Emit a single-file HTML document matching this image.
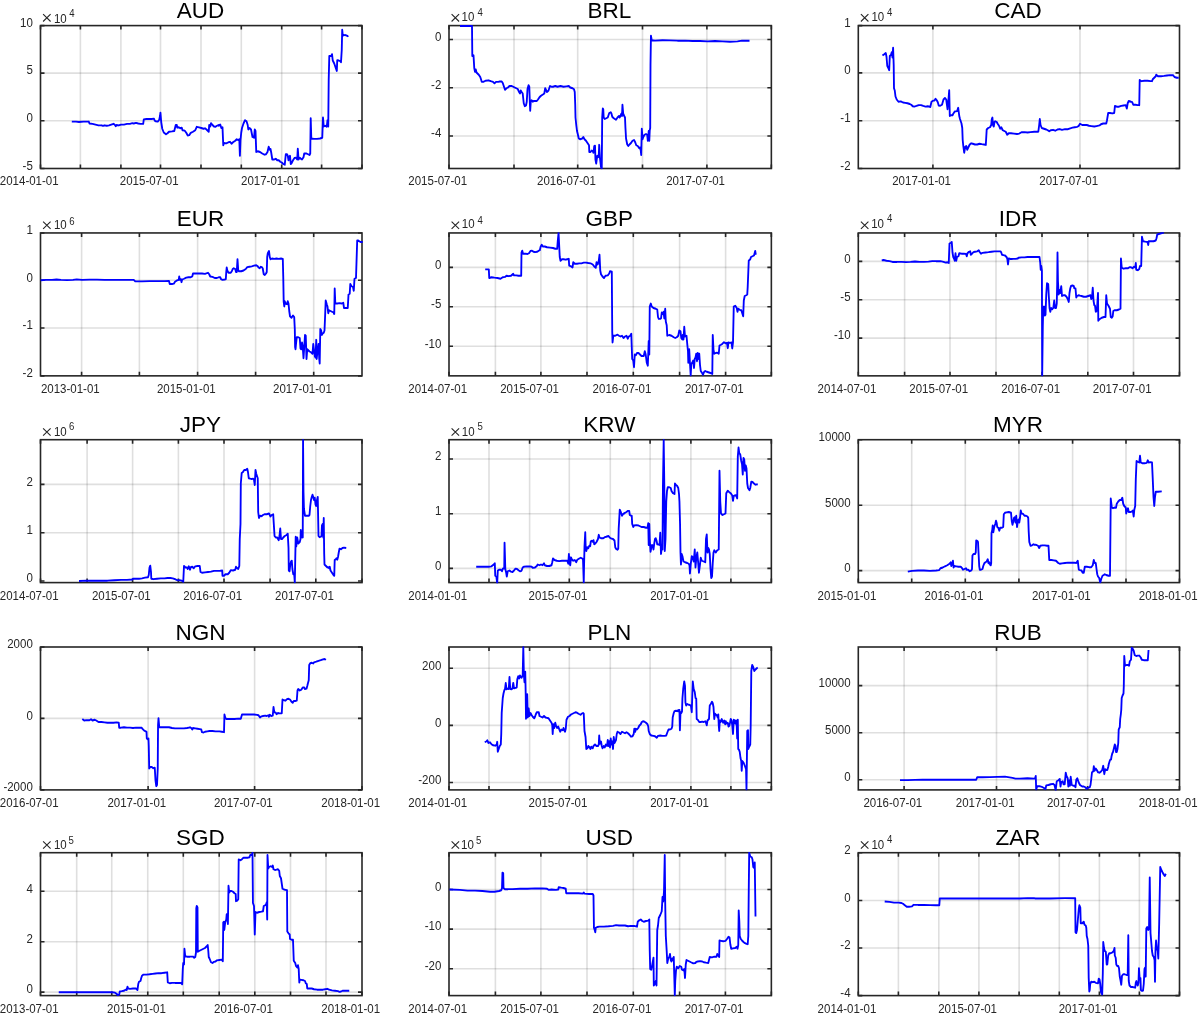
<!DOCTYPE html>
<html><head><meta charset="utf-8"><style>html,body{margin:0;padding:0;background:#fff;}svg{display:block;will-change:transform;}text{font-family:"Liberation Sans",sans-serif;}</style></head><body>
<svg width="1200" height="1016" viewBox="0 0 1200 1016">
<rect x="0" y="0" width="1200" height="1016" fill="#fff"/>
<defs>
<clipPath id="c0"><rect x="39.8" y="24.9" width="322.9" height="144.3"/></clipPath>
<clipPath id="c1"><rect x="448.3" y="24.9" width="323.75" height="144.3"/></clipPath>
<clipPath id="c2"><rect x="857.6" y="24.9" width="322.6" height="144.3"/></clipPath>
<clipPath id="c3"><rect x="39.8" y="232.25" width="322.9" height="144.3"/></clipPath>
<clipPath id="c4"><rect x="448.3" y="232.25" width="323.75" height="144.3"/></clipPath>
<clipPath id="c5"><rect x="857.6" y="232.25" width="322.6" height="144.3"/></clipPath>
<clipPath id="c6"><rect x="39.8" y="439" width="322.9" height="144.3"/></clipPath>
<clipPath id="c7"><rect x="448.3" y="439" width="323.75" height="144.3"/></clipPath>
<clipPath id="c8"><rect x="857.6" y="439" width="322.6" height="144.3"/></clipPath>
<clipPath id="c9"><rect x="39.8" y="646.3" width="322.9" height="144.3"/></clipPath>
<clipPath id="c10"><rect x="448.3" y="646.3" width="323.75" height="144.3"/></clipPath>
<clipPath id="c11"><rect x="857.6" y="646.3" width="322.6" height="144.3"/></clipPath>
<clipPath id="c12"><rect x="39.8" y="852" width="322.9" height="144.3"/></clipPath>
<clipPath id="c13"><rect x="448.3" y="852" width="323.75" height="144.3"/></clipPath>
<clipPath id="c14"><rect x="857.6" y="852" width="322.6" height="144.3"/></clipPath>
</defs>
<g><path d="M80.4 25.6V168.5M120.9 25.6V168.5M160.5 25.6V168.5M201 25.6V168.5M241.3 25.6V168.5M281.7 25.6V168.5M321.6 25.6V168.5" stroke="#262626" stroke-opacity="0.15" stroke-width="1.6" fill="none"/><path d="M40.5 73.15H362M40.5 120.8H362" stroke="#262626" stroke-opacity="0.15" stroke-width="1.6" fill="none"/><path d="M40.5 168.5V164.5M40.5 25.6V29.6M80.4 168.5V164.5M80.4 25.6V29.6M120.9 168.5V164.5M120.9 25.6V29.6M160.5 168.5V164.5M160.5 25.6V29.6M201 168.5V164.5M201 25.6V29.6M241.3 168.5V164.5M241.3 25.6V29.6M281.7 168.5V164.5M281.7 25.6V29.6M321.6 168.5V164.5M321.6 25.6V29.6M362 168.5V164.5M362 25.6V29.6M40.5 25.6H44.5M362 25.6H358M40.5 73.15H44.5M362 73.15H358M40.5 120.8H44.5M362 120.8H358M40.5 168.5H44.5M362 168.5H358" stroke="#262626" stroke-width="1.6" fill="none"/><rect x="40.5" y="25.6" width="321.5" height="142.9" stroke="#262626" stroke-width="1.6" fill="none"/><path d="M71.8,121.55 76,121.7 79,122 83.5,121.7 88.75,121.55 89.5,123.5 92.5,123.95 95.5,124.7 98.5,125.45 101.5,125.3 103,125.9 104.5,125.3 106.75,125.75 109,125.3 111.25,124.55 113.5,123.8 115,125 115.75,126.2 116.5,125 118.75,125.45 121,124.55 124,124.55 127,123.95 130,123.8 132.25,123.2 133.75,123.5 136,122.9 138.25,123.5 140.5,123.8 143.2,123.95 143.8,119.45 146.5,119 149.5,119 151.75,119 154,118.7 154.75,120.8 155.5,121.25 157.75,121.55 159.25,119.75 160,116 160.45,112.7 161.2,122 162.25,128.75 163.75,132.5 166,134.3 167.5,133.25 169,131.75 172,131.45 174.25,131 175,128 175.75,125 176.8,125 177.25,127.7 178.75,127.25 180.25,128.3 181.75,127.7 182.5,130.25 184.75,130.7 186.25,132.8 187.75,135.5 189.25,135.2 190.75,132.8 193,131.75 195.25,130.25 196.75,126.8 199,127.4 201.25,128 203.5,128.75 205,128.3 206.5,129.5 208.75,131.75 209.2,125 210.25,126.5 211,123.2 212.5,125 214,126.5 215.5,126.8 217,125.75 218.5,125 218.75,125.75 220.25,124.55 221.3,128 222.5,127.25 223.25,145.25 224,143 226.25,143.3 228.5,142.25 230,141.8 231.5,143.75 233,142.25 235.25,140.75 236.75,139.25 238.25,140 239.3,139.25 239.9,155.75 240.5,140 241.25,132.5 242,128 243.5,123.5 245,120.2 246.5,121.25 247.7,125 248.3,129.5 249.5,128 251,129.5 252.5,137 254,137.75 254.75,129.5 255.5,131 256.25,152 257.75,151.25 260,152 262.25,153.5 264.5,154.7 266,154.25 267.5,152 268.7,146.75 269.75,149.75 270.5,149 271.25,152.75 272.3,159.5 274.25,159.5 275.75,158.75 277.25,160.25 278.75,160.25 280.25,161.75 281.75,162.5 283.25,164 284.75,164.75 285.8,154.25 287,154.25 287.75,155.75 288.5,160.25 289.25,157.25 290,155.75 290.75,164 291.5,163.25 293,160.25 294.5,158 296,157.7 297.2,159.5 297.8,148.7 298.55,159.5 299.75,157.7 300.8,158.75 302,159.5 303.5,157.25 304.25,153.5 306.5,153.5 308,154.25 309.5,155 310.25,153.5 310.7,118.25 311.3,138.5 314,138.8 317,138.8 320,138.5 322.25,137.75 323,117.5 323.75,126.5 325.25,125.75 326.75,126.8 327.5,120.2 328.25,126.5 328.7,80 329.3,56 331.25,56 332,54.2 332.75,60.5 334.25,63.5 335.75,68 336.8,71 337.25,60.2 338.75,60.5 340.25,61.25 341,62.3 341.75,50 342.2,29.75 342.8,35.75 344.75,35 346.25,35.45 347.75,36.2 348.5,36.05" stroke="#0000ff" stroke-width="1.85" fill="none" stroke-linejoin="round" clip-path="url(#c0)"/><text transform="translate(29.2 185) scale(0.958 1)" font-size="12.0" fill="#262626" text-anchor="middle">2014-01-01</text><text transform="translate(149.2 185) scale(0.958 1)" font-size="12.0" fill="#262626" text-anchor="middle">2015-07-01</text><text transform="translate(270.4 185) scale(0.958 1)" font-size="12.0" fill="#262626" text-anchor="middle">2017-01-01</text><text transform="translate(32.8 26.9) scale(0.958 1)" font-size="12.0" fill="#262626" text-anchor="end">10</text><text transform="translate(32.8 74.45) scale(0.958 1)" font-size="12.0" fill="#262626" text-anchor="end">5</text><text transform="translate(32.8 122.1) scale(0.958 1)" font-size="12.0" fill="#262626" text-anchor="end">0</text><text transform="translate(32.8 169.8) scale(0.958 1)" font-size="12.0" fill="#262626" text-anchor="end">-5</text><text x="200.45" y="18.25" font-size="22.5" fill="#000" text-anchor="middle">AUD</text><path d="M43.1 14.2L50.6 21.5M50.6 14.2L43.1 21.5" stroke="#262626" stroke-width="1.1" fill="none"/><text transform="translate(53.9 22.5) scale(0.958 1)" font-size="12.0" fill="#262626" text-anchor="start">10</text><text transform="translate(69.3 16.9) scale(0.958 1)" font-size="10.0" fill="#262626" text-anchor="start">4</text></g>
<g><path d="M514 25.6V168.5M577.7 25.6V168.5M642.5 25.6V168.5M706.9 25.6V168.5" stroke="#262626" stroke-opacity="0.15" stroke-width="1.6" fill="none"/><path d="M449 39.45H771.35M449 87.7H771.35M449 135.95H771.35" stroke="#262626" stroke-opacity="0.15" stroke-width="1.6" fill="none"/><path d="M449 168.5V164.5M449 25.6V29.6M514 168.5V164.5M514 25.6V29.6M577.7 168.5V164.5M577.7 25.6V29.6M642.5 168.5V164.5M642.5 25.6V29.6M706.9 168.5V164.5M706.9 25.6V29.6M771.35 168.5V164.5M771.35 25.6V29.6M449 39.45H453M771.35 39.45H767.35M449 87.7H453M771.35 87.7H767.35M449 135.95H453M771.35 135.95H767.35" stroke="#262626" stroke-width="1.6" fill="none"/><rect x="449" y="25.6" width="322.35" height="142.9" stroke="#262626" stroke-width="1.6" fill="none"/><path d="M460,26 466,26 472,26 472.3,56 473.5,55.25 474.25,68 475,71.75 475.75,69.5 476.5,72.5 477.25,73.25 478.75,74.75 480.25,77 481,79.25 481.75,81.8 483.25,81.8 485.5,80.75 488.5,80.3 490.75,81.2 493,81.8 494.5,83.3 496,81.8 498.25,81.8 499.75,81.5 501.7,81.5 502.75,83 504.25,87.5 505,89.75 506.5,88.25 508,87.5 509.5,86 511.75,86 513.25,86.75 514.75,87.5 516.25,88.25 517.75,89 519.25,92.3 520,93.5 520.75,90.5 521.5,91.7 522.7,93.5 523.75,103.25 524.8,106.25 526,105.5 526.75,101.75 527.5,89 528.55,85.25 529.3,86.75 529.9,104 530.2,110.75 530.8,101 531.7,100.25 532.75,101.75 533.5,101 535,101 536.8,101 538,99.5 539.5,97.25 541,95.75 543.25,94.25 544.3,93.5 545.2,88.25 546.25,90.5 547,92 548.5,90.5 550,86 551.5,86.75 553,86.75 555.25,86 557.5,86.75 560.5,86 563.5,86.75 566.5,86.3 568.75,86 570.25,87.5 572.5,88.25 574,89.3 574.75,92 575.2,104 575.5,117.5 576.25,125 577,131 577.75,134 578.8,138.5 580,139.25 582.25,138.5 583.3,137 584.5,139.25 586,140.75 587.5,143 589,145.25 589.3,152 590.5,152 591.7,150.5 592.75,151.25 593.5,152.75 594.25,146 595,145.7 595.45,159.5 596.2,163.7 597.25,155.75 598,157.25 598.75,155.75 599.2,144.8 599.95,158 601,167 601.75,168.5 602.2,117.5 602.8,108.5 603.25,109.25 603.7,117.5 604.75,119 606.25,118.25 607.75,117.5 609.25,113 610.75,112.25 611.5,113.75 612.25,116.75 613.75,118.25 616,119.75 617.5,117.5 619,116 619.75,117.5 621.25,113.75 622,116 622.45,104.75 623.2,113.75 624.25,116 625,117.5 625.45,128 626.05,138.5 627.25,144.5 628.3,146 629.5,144.5 631,143 632.5,140.75 634,140 635.2,142.25 636.25,145.25 637.75,146 639.25,148.25 640,147.5 640.75,150.5 641.2,155 641.8,128.75 642.55,139.25 643.3,137 644.5,134.75 646,134 647.2,134.75 647.8,140.75 648.25,137.75 648.7,131 649.3,140.75 649.75,130.25 650.2,128 650.5,65 650.95,35.75 651.7,40.25 655,40.55 662.5,40.25 670,40.4 677.5,40.7 685,40.7 692.5,41 700,41 707.5,41.3 715,41 722.5,41.3 730,41.75 737.5,41.45 742,40.7 749.5,40.7" stroke="#0000ff" stroke-width="1.85" fill="none" stroke-linejoin="round" clip-path="url(#c1)"/><text transform="translate(437.7 185) scale(0.958 1)" font-size="12.0" fill="#262626" text-anchor="middle">2015-07-01</text><text transform="translate(566.4 185) scale(0.958 1)" font-size="12.0" fill="#262626" text-anchor="middle">2016-07-01</text><text transform="translate(695.6 185) scale(0.958 1)" font-size="12.0" fill="#262626" text-anchor="middle">2017-07-01</text><text transform="translate(441.3 40.75) scale(0.958 1)" font-size="12.0" fill="#262626" text-anchor="end">0</text><text transform="translate(441.3 89) scale(0.958 1)" font-size="12.0" fill="#262626" text-anchor="end">-2</text><text transform="translate(441.3 137.25) scale(0.958 1)" font-size="12.0" fill="#262626" text-anchor="end">-4</text><text x="609.38" y="18.25" font-size="22.5" fill="#000" text-anchor="middle">BRL</text><path d="M451.6 14.2L459.1 21.5M459.1 14.2L451.6 21.5" stroke="#262626" stroke-width="1.1" fill="none"/><text transform="translate(461.6 20.6) scale(0.958 1)" font-size="12.0" fill="#262626" text-anchor="start">10</text><text transform="translate(477.4 15.6) scale(0.958 1)" font-size="10.0" fill="#262626" text-anchor="start">4</text></g>
<g><path d="M932.9 25.6V168.5M1080 25.6V168.5" stroke="#262626" stroke-opacity="0.15" stroke-width="1.6" fill="none"/><path d="M858.3 72.9H1179.5M858.3 120.75H1179.5" stroke="#262626" stroke-opacity="0.15" stroke-width="1.6" fill="none"/><path d="M932.9 168.5V164.5M932.9 25.6V29.6M1080 168.5V164.5M1080 25.6V29.6M858.3 25.6H862.3M1179.5 25.6H1175.5M858.3 72.9H862.3M1179.5 72.9H1175.5M858.3 120.75H862.3M1179.5 120.75H1175.5M858.3 168.5H862.3M1179.5 168.5H1175.5" stroke="#262626" stroke-width="1.6" fill="none"/><rect x="858.3" y="25.6" width="321.2" height="142.9" stroke="#262626" stroke-width="1.6" fill="none"/><path d="M882.45,55.55 884.25,54.2 885.75,53 886.5,56.75 887.25,65.75 888.3,68 889.2,70.25 889.8,56 891,54.8 891.75,52.25 892.5,57.5 893.1,47.75 893.7,65 894,88.25 894.75,90.5 895.5,96.5 896.7,99.5 898.5,101.75 900.75,101.45 903,102.5 905.25,102.8 907.5,103.25 909.75,104 911.25,104.75 912.75,106.25 914.25,106.55 916.5,105.95 918.75,105.05 921,105.05 923.25,105.95 925.5,106.55 927.75,106.25 929.25,106.7 930.3,107 931.5,101.75 933,100.7 934.5,100.55 935.55,98.75 936.75,100.25 937.8,102.2 938.7,105.5 940.2,105.8 942,104.75 943.5,99.5 945,98 946.2,99.5 946.8,104 947.55,109.25 948,102.5 948.6,98 949.2,90.2 949.8,116 951,115.25 952.5,115.25 953.25,113.75 954.75,111.5 957,111.2 958.2,107.75 959.25,116 960,119 961.5,123.5 962.25,128 962.7,140 963.3,146 964.2,152.75 965.25,146.75 966.3,146 967.2,149.75 968.25,147.5 969.75,144.5 971.25,143.3 972.75,143.75 975,144.5 977.25,144.5 979.5,143.75 981.75,144.2 984,144.5 985.8,144.95 986.7,129.5 988.2,128 990,127.25 991.2,125 991.8,119 992.4,117.5 993,125 993.75,126.5 994.5,122 995.25,121.25 996.75,122 997.5,123.5 999,125.75 1000.2,128.75 1001.25,127.25 1002.75,130.25 1004.25,131 1005.75,131.75 1007.25,134.75 1008.75,133.25 1011,133.25 1014,133.55 1017,134 1019.25,133.55 1021.5,132.2 1024.5,132.2 1027.5,132.5 1030.5,132.05 1034.25,131.75 1035,131.75 1038.3,131.75 1039.2,125 1039.8,119 1040.55,125 1041.75,128 1044,128.75 1046.25,129.5 1047.75,130.25 1049.25,131.3 1050.75,130.25 1053,129.8 1055.25,130.7 1057.5,129.5 1059.75,129.05 1062,129.8 1065,129.2 1068,129.2 1070.25,128.3 1072.5,127.7 1074.75,127.25 1077,126.8 1078.5,126.2 1080,123.8 1082.25,125 1084.5,125 1086.75,125 1089,125.75 1091.25,126.05 1094.25,126.5 1096.5,126.05 1099.5,125.45 1101,124.25 1103.25,123.5 1106.25,123.5 1107,120.2 1108.2,113 1110,113 1112.25,113.45 1114.2,113 1114.95,105.95 1116.75,106.7 1119,106.7 1121.25,105.8 1123.5,105.5 1125.75,105.2 1126.8,108.5 1127.7,103.25 1128.75,101 1131,101.75 1132.2,102.2 1133.25,104.75 1135.5,104.75 1137.75,105.05 1139.25,105.2 1139.7,80 1141.5,81.2 1144.5,80.75 1147.5,80.75 1150.5,81.05 1152,81.2 1152.75,79.25 1154.25,77.75 1155.75,76.25 1156.2,74.75 1158,76.25 1161,76.25 1164,75.95 1167,75.5 1170,75.2 1173,75.2 1174.5,77 1176.75,77.75 1178.7,77.75" stroke="#0000ff" stroke-width="1.85" fill="none" stroke-linejoin="round" clip-path="url(#c2)"/><text transform="translate(921.6 185) scale(0.958 1)" font-size="12.0" fill="#262626" text-anchor="middle">2017-01-01</text><text transform="translate(1068.7 185) scale(0.958 1)" font-size="12.0" fill="#262626" text-anchor="middle">2017-07-01</text><text transform="translate(850.6 26.9) scale(0.958 1)" font-size="12.0" fill="#262626" text-anchor="end">1</text><text transform="translate(850.6 74.2) scale(0.958 1)" font-size="12.0" fill="#262626" text-anchor="end">0</text><text transform="translate(850.6 122.05) scale(0.958 1)" font-size="12.0" fill="#262626" text-anchor="end">-1</text><text transform="translate(850.6 169.8) scale(0.958 1)" font-size="12.0" fill="#262626" text-anchor="end">-2</text><text x="1018.1" y="18.25" font-size="22.5" fill="#000" text-anchor="middle">CAD</text><path d="M860.9 14.2L868.4 21.5M868.4 14.2L860.9 21.5" stroke="#262626" stroke-width="1.1" fill="none"/><text transform="translate(871.4 20.8) scale(0.958 1)" font-size="12.0" fill="#262626" text-anchor="start">10</text><text transform="translate(887 15.6) scale(0.958 1)" font-size="10.0" fill="#262626" text-anchor="start">4</text></g>
<g><path d="M81.6 232.95V375.85M139.4 232.95V375.85M197.6 232.95V375.85M255.6 232.95V375.85M313.7 232.95V375.85" stroke="#262626" stroke-opacity="0.15" stroke-width="1.6" fill="none"/><path d="M40.5 280.3H362M40.5 328H362" stroke="#262626" stroke-opacity="0.15" stroke-width="1.6" fill="none"/><path d="M81.6 375.85V371.85M81.6 232.95V236.95M139.4 375.85V371.85M139.4 232.95V236.95M197.6 375.85V371.85M197.6 232.95V236.95M255.6 375.85V371.85M255.6 232.95V236.95M313.7 375.85V371.85M313.7 232.95V236.95M40.5 232.95H44.5M362 232.95H358M40.5 280.3H44.5M362 280.3H358M40.5 328H44.5M362 328H358M40.5 375.85H44.5M362 375.85H358" stroke="#262626" stroke-width="1.6" fill="none"/><rect x="40.5" y="232.95" width="321.5" height="142.9" stroke="#262626" stroke-width="1.6" fill="none"/><path d="M40.75,280.25 46,279.95 52,279.8 56.5,279.5 61,279.95 67,280.1 73,279.95 76.75,279.35 82,279.8 89.5,279.65 97,279.65 104.5,279.8 112,279.8 119.5,279.95 127,279.8 133.75,279.8 135.25,281.3 142,281.3 149.5,281.15 157,281.15 164.5,281.15 169,281 169.75,284 172,284 173.8,283.7 175,281.75 177.25,280.25 178.75,279.8 179.2,276.5 179.8,279.8 181,279.2 181.45,282.2 182.2,279.5 184,278.75 186.25,277.7 188.5,277.25 190.75,277.25 192.25,276.5 193,273.5 196,273.5 199,273.5 202,273.5 205,273.8 208,272.75 209.2,274.25 210.25,276.5 212.5,276.95 214.75,278 216.95,278 218.75,277.25 220.25,277.25 221,279.2 222.5,279.8 224.75,279.5 225.8,279.2 226.25,272 226.7,267.5 227.3,270.5 228.5,272.75 230.75,272.75 231.8,271.25 232.7,269 233.75,268.25 235.25,269 236,272 236.75,272 237.5,259.25 238.25,270.5 239,271.25 241.25,271.25 243.5,270.5 245.75,269 247.25,267.2 249.5,266.75 251.75,266.3 254,265.7 256.25,265.25 257.75,266.3 258.5,267.5 259.7,268.25 260.75,266.75 261.8,267.2 262.7,268.25 263.75,274.25 264.8,275 266,273.5 266.75,272 267.2,257 267.8,253.25 269,251 269.75,257 270.5,259.25 272,258.5 274.25,258.8 276.5,258.5 278.75,258.8 281,258.5 282.8,258.8 283.25,276.5 283.7,302 284.3,306.5 284.75,301.25 285.8,303.8 287,304.25 287.75,301.25 288.5,303.5 289.25,311 290,316.25 291.5,317.75 293,315.5 294.2,317 294.8,329 295.1,347 295.55,349.25 296,344 296.75,337.25 298.25,337.25 299.75,338 300.5,348.5 301.25,349.25 302,342.5 302.75,347 303.5,358.25 304.25,347 305,335 305.75,335.75 306.5,359 307.25,349.25 308,350 309.5,351.5 311,352.25 312.5,353.75 313.25,344 314,350 314.75,356 315.5,357.5 316.25,339.8 316.7,359 317.3,353 317.9,350 318.5,344 319.25,359 319.7,363.5 320.3,329 321.2,330.5 321.8,335 322.7,333.5 323.75,332.75 324.5,330.5 324.95,320 325.7,300.5 326.75,304.25 327.5,306.5 328.25,313.25 329,310.25 330.5,311 332,311.75 333.5,312.5 334.25,314 334.7,288.5 335.3,303.5 337.25,303.5 339.5,303.2 341.75,303.5 343.25,302.75 344,308 346.25,308 347.75,308 348.5,294.5 349.7,293.75 350.3,284 351.5,286.25 353,287 353.75,290.75 354.5,278.75 356,278 357.2,240.5 358.25,240.5 359.3,241.25 360.5,242 361.7,242 363.5,242" stroke="#0000ff" stroke-width="1.85" fill="none" stroke-linejoin="round" clip-path="url(#c3)"/><text transform="translate(70.3 392.65) scale(0.958 1)" font-size="12.0" fill="#262626" text-anchor="middle">2013-01-01</text><text transform="translate(186.3 392.65) scale(0.958 1)" font-size="12.0" fill="#262626" text-anchor="middle">2015-01-01</text><text transform="translate(302.4 392.65) scale(0.958 1)" font-size="12.0" fill="#262626" text-anchor="middle">2017-01-01</text><text transform="translate(32.8 234.25) scale(0.958 1)" font-size="12.0" fill="#262626" text-anchor="end">1</text><text transform="translate(32.8 281.6) scale(0.958 1)" font-size="12.0" fill="#262626" text-anchor="end">0</text><text transform="translate(32.8 329.3) scale(0.958 1)" font-size="12.0" fill="#262626" text-anchor="end">-1</text><text transform="translate(32.8 377.15) scale(0.958 1)" font-size="12.0" fill="#262626" text-anchor="end">-2</text><text x="200.45" y="225.6" font-size="22.5" fill="#000" text-anchor="middle">EUR</text><path d="M43.1 221.55L50.6 228.85M50.6 221.55L43.1 228.85" stroke="#262626" stroke-width="1.1" fill="none"/><text transform="translate(53.9 228.7) scale(0.958 1)" font-size="12.0" fill="#262626" text-anchor="start">10</text><text transform="translate(69.3 224.5) scale(0.958 1)" font-size="10.0" fill="#262626" text-anchor="start">6</text></g>
<g><path d="M495.4 232.95V375.85M540.9 232.95V375.85M587 232.95V375.85M633.3 232.95V375.85M679.6 232.95V375.85M725.6 232.95V375.85" stroke="#262626" stroke-opacity="0.15" stroke-width="1.6" fill="none"/><path d="M449 267.4H771.35M449 306.8H771.35M449 346.2H771.35" stroke="#262626" stroke-opacity="0.15" stroke-width="1.6" fill="none"/><path d="M449 375.85V371.85M449 232.95V236.95M495.4 375.85V371.85M495.4 232.95V236.95M540.9 375.85V371.85M540.9 232.95V236.95M587 375.85V371.85M587 232.95V236.95M633.3 375.85V371.85M633.3 232.95V236.95M679.6 375.85V371.85M679.6 232.95V236.95M725.6 375.85V371.85M725.6 232.95V236.95M771.35 375.85V371.85M771.35 232.95V236.95M449 267.4H453M771.35 267.4H767.35M449 306.8H453M771.35 306.8H767.35M449 346.2H453M771.35 346.2H767.35" stroke="#262626" stroke-width="1.6" fill="none"/><rect x="449" y="232.95" width="322.35" height="142.9" stroke="#262626" stroke-width="1.6" fill="none"/><path d="M485.2,269.3 488.8,269.3 489.25,278 491.5,277.25 494.5,277.7 497.5,278 500.5,278.75 502.75,277.25 505,276.95 506.5,275.75 508.75,276.2 511,275.75 513.25,273.8 514,275.3 516.25,275.3 518.5,275.75 521.2,275.75 521.5,252.5 522.25,250.7 523,253.7 525.25,253.7 527.5,254 529,253.25 530.5,251 532,250.7 533.5,251.75 535,252.2 537.25,251.75 538.75,250.7 539.8,250.25 540.7,246.5 541.75,244.7 542.8,246.5 544.75,246.5 547,247.25 550,247.55 553,248 555.25,248.75 557.2,248.75 557.8,240.5 558.55,233 559.3,248 559.75,257 560.5,260.75 562,259.25 563.5,259.25 565.75,259.7 567.25,259.25 568.75,258.8 569.2,265.7 571,266.3 572.5,267.5 573.25,262.25 574.75,263.75 577,263.75 579.25,263.45 581.5,263.3 583.75,262.7 586,262.55 588.25,263 590.5,263.3 592.75,264.5 594.25,266.45 595.75,267.8 596.5,262.25 597.7,264.5 598.75,260.75 599.5,254.75 600.25,270.5 601,274.25 602.5,276.5 604,278 605.5,275.75 607.75,275.3 609.25,273.5 610,271.25 611.8,271.7 612.25,332 612.55,342.5 613.3,335.75 615.25,335.75 617.5,334.7 619,335.75 620.5,336.5 622,335.75 623.5,338 625,336.5 626.5,335.75 627.7,338.75 628.75,336.5 630.25,335.75 631.3,333.8 631.75,347 632.2,359 633.25,360.5 634,367.25 634.75,354.5 635.8,355.25 637,353 638.5,353 640,354.5 641.5,356 643.75,356 644.8,351.2 645.7,354.5 646.75,362.75 647.8,365.75 648.25,353.75 648.7,341 649.3,354.5 649.75,306.5 650.8,303.5 651.7,306.5 653.5,308 655.75,308.75 657.25,309.5 658,317 658.75,318.8 660.25,318.8 661,318.5 661.75,312.5 662.8,314 663.55,311.75 664.3,318.5 665.2,308.75 665.8,321.5 666.7,325.25 667.3,335.75 669.25,335 671.5,335.75 673.75,337.25 675.25,338 676.75,337.25 678.25,335.75 679.3,330.5 680.5,331.25 681.25,338 682.3,339.5 682.75,335 683.5,339.5 684.25,326.75 685,336.5 686.5,335.75 687.25,344 688,351.5 688.3,362.75 689.2,349.25 689.95,362.75 690.7,375.5 691.3,364.25 692.5,362 693.25,360.5 694,368 694.75,359 695.5,357.5 696.25,353.75 697,361.25 697.75,353 698.5,359 699.25,353.75 700,365 700.75,371 702.25,373.25 703,374.75 704.2,371.75 705.25,371 706.75,371.75 709,372.5 711.25,373.25 712.3,374 712.75,335 713.5,350 714.25,353.75 715.75,353 717.25,352.7 718.75,353.75 719.5,345.5 721,344.75 722.5,343.7 724,342.2 725.5,343.25 727,342.8 727.75,348.2 728.5,342.5 730,342.8 731.5,342.5 732.25,348.5 733,342.5 733.75,306.5 735.25,305.75 736.75,308 737.5,311.75 738.25,308.75 739.75,309.8 741.25,310.25 742,312.5 743.2,316.25 743.8,300.5 744.7,296 746.2,295.25 747.25,294.5 747.7,287 748.3,272 748.75,260.75 750.25,259.25 751,257 752.5,256.25 754,255.5 755.2,251 755.8,254.75" stroke="#0000ff" stroke-width="1.85" fill="none" stroke-linejoin="round" clip-path="url(#c4)"/><text transform="translate(437.7 392.65) scale(0.958 1)" font-size="12.0" fill="#262626" text-anchor="middle">2014-07-01</text><text transform="translate(529.6 392.65) scale(0.958 1)" font-size="12.0" fill="#262626" text-anchor="middle">2015-07-01</text><text transform="translate(622 392.65) scale(0.958 1)" font-size="12.0" fill="#262626" text-anchor="middle">2016-07-01</text><text transform="translate(714.3 392.65) scale(0.958 1)" font-size="12.0" fill="#262626" text-anchor="middle">2017-07-01</text><text transform="translate(441.3 268.7) scale(0.958 1)" font-size="12.0" fill="#262626" text-anchor="end">0</text><text transform="translate(441.3 308.1) scale(0.958 1)" font-size="12.0" fill="#262626" text-anchor="end">-5</text><text transform="translate(441.3 347.5) scale(0.958 1)" font-size="12.0" fill="#262626" text-anchor="end">-10</text><text x="609.38" y="225.6" font-size="22.5" fill="#000" text-anchor="middle">GBP</text><path d="M451.6 221.55L459.1 228.85M459.1 221.55L451.6 228.85" stroke="#262626" stroke-width="1.1" fill="none"/><text transform="translate(461.8 227.8) scale(0.958 1)" font-size="12.0" fill="#262626" text-anchor="start">10</text><text transform="translate(477.6 223.5) scale(0.958 1)" font-size="10.0" fill="#262626" text-anchor="start">4</text></g>
<g><path d="M904.6 232.95V375.85M950 232.95V375.85M996 232.95V375.85M1042 232.95V375.85M1087.8 232.95V375.85M1133.5 232.95V375.85" stroke="#262626" stroke-opacity="0.15" stroke-width="1.6" fill="none"/><path d="M858.3 261.4H1179.5M858.3 299.8H1179.5M858.3 338.1H1179.5" stroke="#262626" stroke-opacity="0.15" stroke-width="1.6" fill="none"/><path d="M858.3 375.85V371.85M858.3 232.95V236.95M904.6 375.85V371.85M904.6 232.95V236.95M950 375.85V371.85M950 232.95V236.95M996 375.85V371.85M996 232.95V236.95M1042 375.85V371.85M1042 232.95V236.95M1087.8 375.85V371.85M1087.8 232.95V236.95M1133.5 375.85V371.85M1133.5 232.95V236.95M1179.5 375.85V371.85M1179.5 232.95V236.95M858.3 261.4H862.3M1179.5 261.4H1175.5M858.3 299.8H862.3M1179.5 299.8H1175.5M858.3 338.1H862.3M1179.5 338.1H1175.5" stroke="#262626" stroke-width="1.6" fill="none"/><rect x="858.3" y="232.95" width="321.2" height="142.9" stroke="#262626" stroke-width="1.6" fill="none"/><path d="M881.7,260.3 883.5,260 886.5,260.75 889.5,261.2 892.5,261.95 897,261.95 901.5,261.8 906,262.1 910.5,261.95 915,261.5 919.5,261.8 924,261.8 928.5,261.65 932.25,261.05 936,261.2 940.5,261.2 943.5,261.8 945.75,262.55 947.25,262.25 948.75,263 949.5,243.5 951,242.75 951.75,242 952.5,252.5 953.25,257 954,258.5 954.75,260.75 955.5,253.25 956.25,260.75 957,257 958.5,256.25 959.25,253.25 961.5,253.7 963.75,253.7 966,254 966.75,256.25 967.5,253.25 969,251.75 970.2,251.3 970.8,254.75 972,253.7 973.5,252.2 975,251.75 977.25,251.3 978.75,250.25 979.5,251.75 981,253.7 982.5,252.8 985.5,252.5 988.5,252.2 991.5,251.75 994.5,251.45 997.5,251.3 1000.5,251.3 1001.25,252.5 1002,254.75 1003.5,255.2 1005,255.5 1006.5,257 1007.25,258.5 1008,264.5 1008.75,258.5 1010.25,258.95 1012.5,258.95 1015.5,258.8 1017.75,258.5 1018.5,257.75 1021.5,257.45 1024.5,257.3 1027.5,257 1030.5,257 1034.25,257 1035,257 1039.5,257 1040.25,263 1040.7,269.75 1041.3,266 1041.9,270.5 1042.2,375.5 1042.8,326 1043.25,308 1044,306.5 1044.75,315.5 1045.5,314.75 1046.25,294.5 1047,283.25 1048.2,284 1048.8,296 1049.55,308 1050.3,311.75 1051.2,308 1052.25,309.2 1053.3,308 1054.2,300.5 1054.95,308 1056,308 1056.75,303.5 1057.2,284 1057.5,252.5 1057.95,281 1058.7,294.5 1059.3,290 1060.2,293 1061.25,286.25 1062,296 1063.5,295.25 1065,295.25 1066.5,296.75 1067.7,299 1068.75,302 1069.5,293 1070.25,288.5 1071,285.95 1072.5,285.5 1073.7,285.8 1074.3,288.2 1075.5,288.5 1076.25,297.5 1077,296 1078.5,295.25 1080,295.7 1081.5,296 1083.75,296.75 1086,296.75 1088.25,296 1090.5,295.25 1091.25,299 1092,297.5 1092.75,287.75 1093.5,300.5 1094.25,305 1095,305.75 1095.75,311.75 1096.5,311 1097.25,305 1098,293 1098.3,320.75 1099.5,319.25 1101.75,317.75 1104,317 1105.5,317 1106.25,295.25 1107,303.5 1108.5,305.75 1110,308.75 1110.75,317 1111.8,317.75 1112.7,316.25 1113.3,311 1114.5,310.25 1116.75,310.25 1119,309.5 1120.5,308.75 1120.95,258.5 1121.7,267.5 1123.5,268.7 1125.75,268.25 1128,268.25 1129.5,267.2 1131,267.2 1132.5,268.25 1134,266.75 1135.2,267.5 1135.8,263 1136.25,269.75 1137.75,270.2 1139.25,269 1140,266 1141.2,266 1141.95,236.75 1143,241.25 1145.25,241.7 1147.5,242 1148.25,245 1148.7,241.25 1150.5,241.25 1153.5,241.25 1155.75,240.5 1156.5,238.25 1157.25,234.5 1159.5,233.75 1161.75,233 1164,232.7" stroke="#0000ff" stroke-width="1.85" fill="none" stroke-linejoin="round" clip-path="url(#c5)"/><text transform="translate(847 392.65) scale(0.958 1)" font-size="12.0" fill="#262626" text-anchor="middle">2014-07-01</text><text transform="translate(938.7 392.65) scale(0.958 1)" font-size="12.0" fill="#262626" text-anchor="middle">2015-07-01</text><text transform="translate(1030.7 392.65) scale(0.958 1)" font-size="12.0" fill="#262626" text-anchor="middle">2016-07-01</text><text transform="translate(1122.2 392.65) scale(0.958 1)" font-size="12.0" fill="#262626" text-anchor="middle">2017-07-01</text><text transform="translate(850.6 262.7) scale(0.958 1)" font-size="12.0" fill="#262626" text-anchor="end">0</text><text transform="translate(850.6 301.1) scale(0.958 1)" font-size="12.0" fill="#262626" text-anchor="end">-5</text><text transform="translate(850.6 339.4) scale(0.958 1)" font-size="12.0" fill="#262626" text-anchor="end">-10</text><text x="1018.1" y="225.6" font-size="22.5" fill="#000" text-anchor="middle">IDR</text><path d="M860.9 221.55L868.4 228.85M868.4 221.55L860.9 228.85" stroke="#262626" stroke-width="1.1" fill="none"/><text transform="translate(871.2 227.8) scale(0.958 1)" font-size="12.0" fill="#262626" text-anchor="start">10</text><text transform="translate(887 221.75) scale(0.958 1)" font-size="10.0" fill="#262626" text-anchor="start">4</text></g>
<g><path d="M87.1 439.7V582.6M132.6 439.7V582.6M178.4 439.7V582.6M224 439.7V582.6M270.1 439.7V582.6M315.8 439.7V582.6" stroke="#262626" stroke-opacity="0.15" stroke-width="1.6" fill="none"/><path d="M40.5 484.4H362M40.5 532.7H362" stroke="#262626" stroke-opacity="0.15" stroke-width="1.6" fill="none"/><path d="M40.5 582.6V578.6M40.5 439.7V443.7M87.1 582.6V578.6M87.1 439.7V443.7M132.6 582.6V578.6M132.6 439.7V443.7M178.4 582.6V578.6M178.4 439.7V443.7M224 582.6V578.6M224 439.7V443.7M270.1 582.6V578.6M270.1 439.7V443.7M315.8 582.6V578.6M315.8 439.7V443.7M362 582.6V578.6M362 439.7V443.7M40.5 484.4H44.5M362 484.4H358M40.5 532.7H44.5M362 532.7H358M40.5 581H44.5M362 581H358" stroke="#262626" stroke-width="1.6" fill="none"/><rect x="40.5" y="439.7" width="321.5" height="142.9" stroke="#262626" stroke-width="1.6" fill="none"/><path d="M79,581 86.5,580.7 97,580.7 107.5,580.7 114.25,580.25 121,579.95 127,579.8 132.25,579.5 133,578.75 139,578.75 142,578.3 145,577.7 148,577.25 148.75,575 149.5,567.5 150.25,565.7 151,572 151.3,578.75 153.25,579.2 157,578.75 160.75,578.3 164.5,578.3 167.5,578 170.5,578 172.75,578.3 175,579.2 177.25,580.25 179.5,580.25 181.75,580.7 183.25,581.75 184,566 185.5,567.5 187,567.5 187.75,569 188.8,566.3 190,569.75 190.75,567.2 192.25,566.75 193.75,568.25 195.25,566.3 197.5,566 199.75,566 200.5,572 202,572.75 205,572.3 208,572 211,571.7 214,570.8 216.95,570.8 219.5,570.8 222.2,570.5 222.5,575.75 224,575.75 225.5,574.25 227.75,574.25 229.25,572.75 230.75,570.2 233,570.5 235.25,569.75 236,566.75 237.2,568.25 238.25,569 239.3,566 239.75,539 240.5,524 240.8,483.5 241.7,473 242.75,472.25 244.25,470 245.75,470 247.25,468.8 248,472.25 248.75,478.25 250.25,478.7 251.75,479 253.25,478.7 254,479.75 254.75,485 255.5,470 256.25,473.75 257.75,478.25 258.2,512 258.95,518 260,515.75 261.5,516.2 263,515 264.5,514.25 266.75,514.25 269,513.5 270.5,516.5 271.7,515 273.2,514.25 273.8,524 274.55,536 275.75,537.5 277.25,537.5 278,539 278.75,540.2 279.5,536 280.25,528.5 281,539 282.2,539 283.25,537.5 284.75,536 286.25,535.25 287.75,533.75 288.5,548 288.8,570.5 289.55,571.25 290.3,564.5 291.05,561.5 291.8,560.75 292.4,569 293.3,574.25 294.2,574.25 294.8,582.5 295.25,558.5 295.7,536.75 296.3,546.5 297.2,537.5 298.25,543.5 299.75,542 300.5,539 300.8,530 301.4,537.5 302,533 302.75,537.5 303.05,440 303.5,492.5 303.95,509 305,515.75 306.5,515.75 308.75,515.75 309.5,515 310.25,506 311,500 311.75,497 312.5,494.75 313.25,497 314,500 314.75,497.75 315.5,504.5 316.25,506 317,500 317.75,497 318.5,536 319.55,537.2 320.75,536.75 321.5,536 321.95,525.5 322.7,524 323.3,537.5 323.75,518 324.2,554 324.5,564.5 326,566 327.5,567.5 328.25,567.2 329,568.25 329.75,566.75 330.5,570.5 332,572.75 333.5,575 334.25,575.75 334.7,560 335.75,559.25 336.5,558.2 337.25,559.7 338,557 338.75,552.5 339.5,548.75 341,549.2 342.5,548 344,547.7 346.25,548" stroke="#0000ff" stroke-width="1.85" fill="none" stroke-linejoin="round" clip-path="url(#c6)"/><text transform="translate(29.2 600) scale(0.958 1)" font-size="12.0" fill="#262626" text-anchor="middle">2014-07-01</text><text transform="translate(121.3 600) scale(0.958 1)" font-size="12.0" fill="#262626" text-anchor="middle">2015-07-01</text><text transform="translate(212.7 600) scale(0.958 1)" font-size="12.0" fill="#262626" text-anchor="middle">2016-07-01</text><text transform="translate(304.5 600) scale(0.958 1)" font-size="12.0" fill="#262626" text-anchor="middle">2017-07-01</text><text transform="translate(32.8 485.7) scale(0.958 1)" font-size="12.0" fill="#262626" text-anchor="end">2</text><text transform="translate(32.8 534) scale(0.958 1)" font-size="12.0" fill="#262626" text-anchor="end">1</text><text transform="translate(32.8 582.3) scale(0.958 1)" font-size="12.0" fill="#262626" text-anchor="end">0</text><text x="200.45" y="432.35" font-size="22.5" fill="#000" text-anchor="middle">JPY</text><path d="M43.1 428.3L50.6 435.6M50.6 428.3L43.1 435.6" stroke="#262626" stroke-width="1.1" fill="none"/><text transform="translate(53.9 435.7) scale(0.958 1)" font-size="12.0" fill="#262626" text-anchor="start">10</text><text transform="translate(69.1 429.6) scale(0.958 1)" font-size="10.0" fill="#262626" text-anchor="start">6</text></g>
<g><path d="M489 439.7V582.6M529.6 439.7V582.6M569.3 439.7V582.6M610.3 439.7V582.6M650.1 439.7V582.6M690.9 439.7V582.6M730.9 439.7V582.6" stroke="#262626" stroke-opacity="0.15" stroke-width="1.6" fill="none"/><path d="M449 459H771.35M449 513.7H771.35M449 568.4H771.35" stroke="#262626" stroke-opacity="0.15" stroke-width="1.6" fill="none"/><path d="M449 582.6V578.6M449 439.7V443.7M489 582.6V578.6M489 439.7V443.7M529.6 582.6V578.6M529.6 439.7V443.7M569.3 582.6V578.6M569.3 439.7V443.7M610.3 582.6V578.6M610.3 439.7V443.7M650.1 582.6V578.6M650.1 439.7V443.7M690.9 582.6V578.6M690.9 439.7V443.7M730.9 582.6V578.6M730.9 439.7V443.7M771.35 582.6V578.6M771.35 439.7V443.7M449 459H453M771.35 459H767.35M449 513.7H453M771.35 513.7H767.35M449 568.4H453M771.35 568.4H767.35" stroke="#262626" stroke-width="1.6" fill="none"/><rect x="449" y="439.7" width="322.35" height="142.9" stroke="#262626" stroke-width="1.6" fill="none"/><path d="M476.2,566.75 482.5,566.75 488.5,566.75 491.5,566.3 493.75,564.5 494.8,563.3 495.25,575.75 496.3,576.5 497.2,583.25 497.8,570.5 499,569.75 500.8,569.75 502,571.25 502.75,568.7 504.25,568.25 504.55,542.75 505.3,569 506.2,572.75 506.8,576.5 507.7,571.25 509.5,570.5 511,571.7 512.5,572 514,570.5 515.5,568.7 517,569 518.5,570.2 520,571.25 521.5,570.8 522.7,567.5 523.75,566.75 526.75,566.45 529.75,566.45 531.7,566.75 532.75,567.8 535,567.5 536.8,566 537.7,564.5 539.5,565.25 541,564.5 542.5,565.25 544,563.3 544.75,565.25 547,566 549.25,566 551.5,565.25 552.25,562.25 553,558.5 554.5,560 556.75,560.75 559,561.05 562,560.75 565,560.75 567.25,560.75 568.3,563.75 568.9,554 569.5,563 570.25,565.25 571,557.3 571.75,559.25 573.25,560.75 574.75,560 576.25,562.25 577.3,559.7 579.25,558.5 580.75,557.75 582.25,558.5 583,559.25 583.75,582.5 584.05,566 584.5,546.5 585.25,532.25 585.7,548 586.3,551 587.2,547.25 588.25,548.3 589.3,545.75 590.2,546.2 590.8,541.25 591.7,540.8 592.75,541.7 593.5,540.2 594.25,544.25 595,543.8 596.5,542 598,539 598.75,534.8 599.5,537.5 601,538.25 603.25,538.25 604.75,537.2 606.25,536.75 608.5,536 610,537.8 611.5,538.7 613,539 614.5,540.5 615.25,547.25 616,548.75 617.5,549.8 618.25,548.75 618.7,528.5 619.3,518 619.75,509.75 620.8,512 622,515.75 623.5,513.5 624.25,513.5 625,512.75 626.5,512 628,510.8 629.2,510.8 629.8,515 631,515.75 631.75,515.75 632.2,524 633.25,527 634,525.5 636.25,525.2 638.5,525.5 640,526.25 641.5,527 643.75,527 646,527.75 647.5,527.75 648.25,523.25 648.7,545 649.3,524 649.75,539 650.5,551.75 651.25,548 652,545 652.75,545.75 653.5,549.5 654.25,543.5 655,539 655.75,538.25 656.5,540.5 657.25,544.25 658.75,544.7 659.5,545 660.25,532.7 661,554 661.75,548 662.5,549.5 662.95,485 663.7,440 664.3,485 664.75,551 665.5,539 666.25,501.5 667,491 667.75,487.25 669.25,487.25 670.75,488 671.5,491 673,493.25 674.5,494 674.95,483.5 676,485 677.05,485.75 678.25,488 679,494 679.45,501.5 680.05,524 680.5,552.5 680.95,564.5 681.7,554 682.45,556.25 683.5,561.5 685,562.25 687.25,563 688.75,563.75 689.5,565.25 689.95,573.5 690.7,564.5 691.75,556.25 692.5,557 693.7,561.5 694.75,549.5 695.5,567.5 696.25,558.5 697.3,552.5 698.2,563 698.95,572.75 700,564.5 700.75,557.75 701.8,560.75 703.75,561.5 705.25,562.25 706,539 706.75,534.5 707.5,552.5 708.25,548 709,549.5 709.75,554 710.5,569 711.25,578 712,576.5 712.75,563 713.5,552.5 714.25,550.25 715.75,552.5 717.25,550.25 718.75,549.5 719.5,470.75 720.25,501.5 721,513.5 722.5,515 724,514.25 725.5,513.5 726.25,493.25 727.75,490.7 729.25,492.2 730.75,493.25 732.25,495.5 733,500.75 733.75,495.8 734.5,495.5 736,495.2 737.2,498.5 737.8,456.5 738.55,447.5 739.3,453.5 740.2,454.25 741.25,461 742,464 742.75,474.5 743.5,458 744.25,459.5 745,470.75 745.75,465.5 746.5,468.5 747.25,483.5 748,488 749.5,490.25 750.25,488 751.3,481.7 752.5,482 754,483.5 755.5,484.7 757.75,484.25" stroke="#0000ff" stroke-width="1.85" fill="none" stroke-linejoin="round" clip-path="url(#c7)"/><text transform="translate(437.7 600) scale(0.958 1)" font-size="12.0" fill="#262626" text-anchor="middle">2014-01-01</text><text transform="translate(558 600) scale(0.958 1)" font-size="12.0" fill="#262626" text-anchor="middle">2015-07-01</text><text transform="translate(679.6 600) scale(0.958 1)" font-size="12.0" fill="#262626" text-anchor="middle">2017-01-01</text><text transform="translate(441.3 460.3) scale(0.958 1)" font-size="12.0" fill="#262626" text-anchor="end">2</text><text transform="translate(441.3 515) scale(0.958 1)" font-size="12.0" fill="#262626" text-anchor="end">1</text><text transform="translate(441.3 569.7) scale(0.958 1)" font-size="12.0" fill="#262626" text-anchor="end">0</text><text x="609.38" y="432.35" font-size="22.5" fill="#000" text-anchor="middle">KRW</text><path d="M451.6 428.3L459.1 435.6M459.1 428.3L451.6 435.6" stroke="#262626" stroke-width="1.1" fill="none"/><text transform="translate(461.8 435.7) scale(0.958 1)" font-size="12.0" fill="#262626" text-anchor="start">10</text><text transform="translate(477.4 429.6) scale(0.958 1)" font-size="10.0" fill="#262626" text-anchor="start">5</text></g>
<g><path d="M911.7 439.7V582.6M965.3 439.7V582.6M1018.9 439.7V582.6M1072.6 439.7V582.6M1126 439.7V582.6" stroke="#262626" stroke-opacity="0.15" stroke-width="1.6" fill="none"/><path d="M858.3 505.2H1179.5M858.3 570.6H1179.5" stroke="#262626" stroke-opacity="0.15" stroke-width="1.6" fill="none"/><path d="M858.3 582.6V578.6M858.3 439.7V443.7M911.7 582.6V578.6M911.7 439.7V443.7M965.3 582.6V578.6M965.3 439.7V443.7M1018.9 582.6V578.6M1018.9 439.7V443.7M1072.6 582.6V578.6M1072.6 439.7V443.7M1126 582.6V578.6M1126 439.7V443.7M1179.5 582.6V578.6M1179.5 439.7V443.7M858.3 439.7H862.3M1179.5 439.7H1175.5M858.3 505.2H862.3M1179.5 505.2H1175.5M858.3 570.6H862.3M1179.5 570.6H1175.5" stroke="#262626" stroke-width="1.6" fill="none"/><rect x="858.3" y="439.7" width="321.2" height="142.9" stroke="#262626" stroke-width="1.6" fill="none"/><path d="M907.8,571.7 912,570.8 918,570.5 924,570.5 930,570.8 936,570.5 939,570.2 940.5,568.25 942.75,567.5 945,566.3 947.25,565.25 949.5,563.75 950.7,562.25 951.3,566 952.2,563.75 952.95,560.75 953.55,567.5 954.3,566 956.25,566.3 958.5,566.75 960.75,566.75 961.8,567.8 963,569.75 964.5,569 966,568.25 966.75,569.75 968.25,569.75 969.75,571.25 971.25,570.5 972,569 972.45,555.5 973.5,554 975,554 975.75,552.5 976.2,540.5 977.25,540.8 978,542 978.45,551 979.2,566 979.8,569.75 981,569.75 982.5,569 983.25,566 984.3,563.3 985.5,562.25 986.7,561.5 987.75,559.25 988.5,563.3 989.25,562.25 990,564.5 990.75,565.25 991.2,563 991.5,533 992.25,530 992.7,525.5 993.3,532.25 994.2,527 995.25,524 996,520.7 996.75,523.25 997.2,527 998.25,527.75 999.3,530.75 1000.2,527.75 1002,527.75 1003.2,527 1003.8,514.25 1005,512.75 1006.5,512.3 1008.75,512 1011,512.75 1011.75,521 1012.5,524.75 1013.25,521.75 1014,518 1014.75,517.25 1015.5,522.5 1016.25,515.75 1017,527 1017.75,521.75 1018.5,519.5 1019.25,522.5 1020,518 1020.75,510.5 1021.5,513.5 1023,513.8 1024.5,515.75 1026,515.75 1027.5,516.5 1028.25,518 1028.7,531.5 1029.3,542 1030.5,545.75 1032,545.3 1033.5,544.25 1034.25,544.7 1035,544.7 1036.5,545 1038,545.75 1039.2,548 1040.25,545.75 1042.5,545.3 1044.75,545.45 1047,545.75 1048.5,545.75 1049.25,560 1051.5,560 1053.75,560.3 1056,560.75 1058.25,563 1059.75,563.75 1062,563.3 1065,563 1068,562.7 1071,562.7 1074,562.7 1076.25,563 1077.75,560.75 1078.8,569.75 1080,570.2 1081.5,570.5 1082.7,572.75 1083.75,572.75 1084.8,566.75 1086.75,566.75 1089,567.2 1091.25,567.2 1092.75,565.25 1093.8,560 1094.7,563 1095.75,563 1096.5,569 1097.25,574.25 1098,576.5 1099.2,578 1100.25,582.5 1101.3,578.75 1102.5,575.75 1103.7,575 1104.75,574.25 1106.25,575 1108.5,575.75 1110,575.75 1110.75,498.5 1111.8,507.5 1113,508.25 1114.5,507.5 1116,507.8 1116.75,503.75 1118.25,501.5 1119.75,500 1121.25,500 1122.3,497.75 1123.2,503.75 1124.25,506 1125.75,507.5 1126.2,513.5 1127.25,509.75 1128,508.25 1128.75,512 1130.25,512 1131.75,511.7 1132.8,510.5 1133.7,516.5 1134.3,509.75 1135.2,506 1135.8,479 1136.55,461 1137.75,461.75 1139.25,462.5 1140,455.75 1140.75,462.5 1142.25,463.25 1144.5,463.25 1146.75,462.8 1147.8,460.25 1148.7,462.5 1150.5,462.2 1152,462.5 1152.75,479 1153.5,497 1154.25,506 1155,497 1155.75,491.75 1158,491.75 1161.75,491.45" stroke="#0000ff" stroke-width="1.85" fill="none" stroke-linejoin="round" clip-path="url(#c8)"/><text transform="translate(847 600) scale(0.958 1)" font-size="12.0" fill="#262626" text-anchor="middle">2015-01-01</text><text transform="translate(954 600) scale(0.958 1)" font-size="12.0" fill="#262626" text-anchor="middle">2016-01-01</text><text transform="translate(1061.3 600) scale(0.958 1)" font-size="12.0" fill="#262626" text-anchor="middle">2017-01-01</text><text transform="translate(1168.2 600) scale(0.958 1)" font-size="12.0" fill="#262626" text-anchor="middle">2018-01-01</text><text transform="translate(850.6 441) scale(0.958 1)" font-size="12.0" fill="#262626" text-anchor="end">10000</text><text transform="translate(850.6 506.5) scale(0.958 1)" font-size="12.0" fill="#262626" text-anchor="end">5000</text><text transform="translate(850.6 571.9) scale(0.958 1)" font-size="12.0" fill="#262626" text-anchor="end">0</text><text x="1018.1" y="432.35" font-size="22.5" fill="#000" text-anchor="middle">MYR</text></g>
<g><path d="M148.1 647V789.9M254.6 647V789.9" stroke="#262626" stroke-opacity="0.15" stroke-width="1.6" fill="none"/><path d="M40.5 718.4H362" stroke="#262626" stroke-opacity="0.15" stroke-width="1.6" fill="none"/><path d="M40.5 789.9V785.9M40.5 647V651M148.1 789.9V785.9M148.1 647V651M254.6 789.9V785.9M254.6 647V651M362 789.9V785.9M362 647V651M40.5 647H44.5M362 647H358M40.5 718.4H44.5M362 718.4H358M40.5 789.9H44.5M362 789.9H358" stroke="#262626" stroke-width="1.6" fill="none"/><rect x="40.5" y="647" width="321.5" height="142.9" stroke="#262626" stroke-width="1.6" fill="none"/><path d="M82.3,719 84.25,720.5 86.5,720.2 89.5,720.2 91,719.3 92.5,720.5 94.75,719.75 96.25,720.5 98.5,722 101.5,722 104.5,722.3 107.5,722.75 110.5,722.75 113.5,722.75 116.5,722.45 118.75,722.75 119.2,727.7 121,727.7 124,727.25 127,727.55 130,727.7 133,728 136,727.7 139,727.7 141.7,727.7 142.75,729.2 144.25,730.7 145.75,731.3 146.5,731.75 146.8,738.5 147.7,739.25 148.45,738.5 148.75,746 149.2,768.5 150.25,767 151.75,767 153.25,768.2 154.75,767.75 155.5,780.5 156.25,786.2 157,785 157.75,768.5 158.05,725 158.5,718.25 159.25,727.25 160.75,727.25 163,727.25 166,727.25 169,727.25 172,728 175,728.3 178,728.3 181,728.3 184,728.3 187,728 189.25,727.7 190,727.25 191.5,728.3 192.25,729.5 193,728 195.25,728.3 197.5,728.75 199.75,729.2 201.25,729.5 202,732.2 203.5,732.5 205,731.75 207.25,731.3 209.5,731 212.5,731 215.5,731.3 216.95,731.3 219.5,731.3 221.75,731.75 224,732.2 224.45,714.5 225.2,717.5 226.25,719 230,719 234.5,719 238.25,718.7 240.8,718.7 242,714.5 245,714.5 249.5,714.5 254,714.5 257,714.8 258.5,715.25 260,717.5 261.5,716.3 263,716 265.25,715.7 266.75,716 268.25,715.25 269,716.75 269.75,714.8 271.25,716 272.75,715.7 273.5,707 274.25,712.25 275.75,712.7 276.5,714.2 278,713 279.5,713.3 281.75,713.3 282.5,699.5 284,700.25 285.5,700.7 287,699.2 288.5,698.75 290,699.5 291.5,701.75 292.7,702.8 293.75,701 295.25,701 296.75,700.7 297.5,690.5 298.25,689 299.75,690.5 301.25,689.75 302.75,687.5 304.25,687.5 305,689 306.5,688.7 307.25,686 308,683 308.75,680.3 309.2,665 310.25,663.2 311.75,662.75 313.25,663.5 314,662.3 316.25,661.7 318.5,660.8 320.75,660.2 323,659.3 324.5,659 326,659.75" stroke="#0000ff" stroke-width="1.85" fill="none" stroke-linejoin="round" clip-path="url(#c9)"/><text transform="translate(29.2 806.55) scale(0.958 1)" font-size="12.0" fill="#262626" text-anchor="middle">2016-07-01</text><text transform="translate(136.8 806.55) scale(0.958 1)" font-size="12.0" fill="#262626" text-anchor="middle">2017-01-01</text><text transform="translate(243.3 806.55) scale(0.958 1)" font-size="12.0" fill="#262626" text-anchor="middle">2017-07-01</text><text transform="translate(350.7 806.55) scale(0.958 1)" font-size="12.0" fill="#262626" text-anchor="middle">2018-01-01</text><text transform="translate(32.8 648.3) scale(0.958 1)" font-size="12.0" fill="#262626" text-anchor="end">2000</text><text transform="translate(32.8 719.7) scale(0.958 1)" font-size="12.0" fill="#262626" text-anchor="end">0</text><text transform="translate(32.8 791.2) scale(0.958 1)" font-size="12.0" fill="#262626" text-anchor="end">-2000</text><text x="200.45" y="639.65" font-size="22.5" fill="#000" text-anchor="middle">NGN</text></g>
<g><path d="M489 647V789.9M529.6 647V789.9M569.3 647V789.9M610.3 647V789.9M650.1 647V789.9M690.9 647V789.9M730.9 647V789.9" stroke="#262626" stroke-opacity="0.15" stroke-width="1.6" fill="none"/><path d="M449 668.2H771.35M449 725.4H771.35M449 782.5H771.35" stroke="#262626" stroke-opacity="0.15" stroke-width="1.6" fill="none"/><path d="M449 789.9V785.9M449 647V651M489 789.9V785.9M489 647V651M529.6 789.9V785.9M529.6 647V651M569.3 789.9V785.9M569.3 647V651M610.3 789.9V785.9M610.3 647V651M650.1 789.9V785.9M650.1 647V651M690.9 789.9V785.9M690.9 647V651M730.9 789.9V785.9M730.9 647V651M771.35 789.9V785.9M771.35 647V651M449 668.2H453M771.35 668.2H767.35M449 725.4H453M771.35 725.4H767.35M449 782.5H453M771.35 782.5H767.35" stroke="#262626" stroke-width="1.6" fill="none"/><rect x="449" y="647" width="322.35" height="142.9" stroke="#262626" stroke-width="1.6" fill="none"/><path d="M484.75,742.25 486.25,741.5 487.3,740.3 488.5,743 490,742.25 491.5,744.2 493,745.25 495.25,745.7 496.75,744.5 497.2,741.8 497.8,751.7 498.7,749 499.75,746 500.8,744.5 501.25,734 501.7,713 502.75,698 503.5,693.5 504.25,690.5 505,689 505.75,683 506.5,689.3 507.7,688.7 508.75,689 509.5,677 510.25,689 511.75,689.3 512.5,688.25 513.25,683 514,688.25 515.5,687.8 516.7,687.5 517.3,679.25 518.2,676.25 519.25,678.5 520,675.5 521.5,677.75 522.7,675.5 523.3,647 523.9,675.5 524.5,682.25 525.25,671.75 525.7,693.5 526,718.7 526.75,708.5 527.2,694.25 527.8,717.5 528.7,708.5 529.45,716 530.5,713 531.7,715.25 532.75,716.75 534.25,718.25 535,716.75 535.75,714.5 536.8,712.25 538.75,712.25 539.5,716 541,716.75 542.5,717.5 544,716 545.5,717.5 547,717.8 548.5,718.25 550,720.5 551.5,722.75 552.25,725 552.7,734 553.3,724.25 554.2,728 555.25,722.75 556,725.75 557.2,728 558.25,726.5 559.3,729.5 560.2,731.75 561.25,729.5 562.75,730.25 563.5,728 565,731.75 565.75,728.75 566.5,719.75 568,716.75 569.5,716 571,714.5 572.5,713.75 574,713 575.5,712.25 577,712.7 578.5,713.75 580,714.5 580.75,714.8 581.5,713.75 583,713 583.75,713.75 584.5,731 585.55,737 586.3,749 587.5,748.25 588.25,746 589.75,747.5 590.5,749 591.25,746.75 592.75,748.25 593.5,746 595,744.5 596.5,746 598,746 598.75,744.5 599.2,735.5 599.8,743.75 601,741.5 601.75,746 602.5,748.25 603.7,746 604.75,747.5 605.8,744.5 607,746 607.75,740 608.5,746 609.25,741.2 610,747.5 610.75,738.5 611.5,744.5 612.25,741.5 613,749 613.75,737 614.5,743 616,740 616.75,734 617.5,731.75 619,732.5 620.5,734 622,731.75 623.5,732.5 625,733.25 626.5,732.2 628,733.25 629.5,734.75 631,736.7 632.5,736.25 633.7,734 634.3,728.75 635.2,731.75 635.8,728.75 637,729.5 638.2,728 639.25,725.75 640.75,724.25 641.8,722 643,721.25 644.5,721.7 646,722.75 647.5,724.25 648.25,726.5 648.7,731 649.75,734 651.25,735.5 653.5,735.8 655,736.25 656.8,737.75 658,735.8 660.25,735.5 662.5,735.8 664.75,735.8 666.25,735.5 667.3,732.5 668.5,729.5 670,729.5 671.5,728.75 672.25,726.5 672.7,717.5 673.75,713 674.5,711.2 676,710.75 677.5,711.2 678.25,710 679,711.5 679.45,710 679.9,730.25 680.5,712.25 681.25,713 682,711.5 682.45,698 683.2,689 684.25,681.5 685,686 685.45,702.5 686.2,705.5 687.25,704 688.75,704.75 690.25,705.2 691,706.25 691.75,712.25 692.2,698 692.8,681.5 693.7,689 694.75,692 695.5,698 696.25,698.75 696.7,719 697.75,719.75 699.25,722 700.75,722 702.25,721.7 703.75,722 705.25,721.25 706,722.75 706.75,725.3 707.5,720.5 708.25,719.75 709,719 709.75,705.5 710.8,704 712,701.75 712.75,703.25 713.5,707 714.25,719 715,713.75 715.75,714.5 716.8,715.25 717.7,717.5 718.3,714.5 718.75,725 719.2,731 719.8,720.5 720.7,722 721.75,719 722.5,721.25 723.25,722.75 724.3,720.5 725.2,724.25 725.8,721.25 726.7,723.5 727.75,722.75 728.5,726.5 729.25,725.75 730,722.75 730.75,719 731.5,720.5 732.25,725 733,734 733.75,719.75 734.5,720.5 735.25,723.5 736,720.5 736.75,726.5 737.2,738.5 737.8,719.75 738.25,749 739,749.75 739.75,752 740.5,758 741.25,761 741.7,770.75 742.3,761 743.5,762.5 745,766.25 746.05,769.25 746.5,789.5 747.25,731 748,730.25 748.3,749 749.2,746.75 750.25,744.5 750.7,725 751.3,671 752.2,665 753.25,667.25 754.3,671 755.5,669.5 757,668 757.75,667.7" stroke="#0000ff" stroke-width="1.85" fill="none" stroke-linejoin="round" clip-path="url(#c10)"/><text transform="translate(437.7 806.55) scale(0.958 1)" font-size="12.0" fill="#262626" text-anchor="middle">2014-01-01</text><text transform="translate(558 806.55) scale(0.958 1)" font-size="12.0" fill="#262626" text-anchor="middle">2015-07-01</text><text transform="translate(679.6 806.55) scale(0.958 1)" font-size="12.0" fill="#262626" text-anchor="middle">2017-01-01</text><text transform="translate(441.3 669.5) scale(0.958 1)" font-size="12.0" fill="#262626" text-anchor="end">200</text><text transform="translate(441.3 726.7) scale(0.958 1)" font-size="12.0" fill="#262626" text-anchor="end">0</text><text transform="translate(441.3 783.8) scale(0.958 1)" font-size="12.0" fill="#262626" text-anchor="end">-200</text><text x="609.38" y="639.65" font-size="22.5" fill="#000" text-anchor="middle">PLN</text></g>
<g><path d="M904.1 647V789.9M996.5 647V789.9M1087.6 647V789.9" stroke="#262626" stroke-opacity="0.15" stroke-width="1.6" fill="none"/><path d="M858.3 685.6H1179.5M858.3 732.7H1179.5M858.3 779.8H1179.5" stroke="#262626" stroke-opacity="0.15" stroke-width="1.6" fill="none"/><path d="M904.1 789.9V785.9M904.1 647V651M996.5 789.9V785.9M996.5 647V651M1087.6 789.9V785.9M1087.6 647V651M1179.5 789.9V785.9M1179.5 647V651M858.3 685.6H862.3M1179.5 685.6H1175.5M858.3 732.7H862.3M1179.5 732.7H1175.5M858.3 779.8H862.3M1179.5 779.8H1175.5" stroke="#262626" stroke-width="1.6" fill="none"/><rect x="858.3" y="647" width="321.2" height="142.9" stroke="#262626" stroke-width="1.6" fill="none"/><path d="M900,780.05 907.5,780.05 915,779.9 922.5,779.75 930,779.75 937.5,779.75 945,779.75 952.5,779.75 960,779.75 967.5,779.75 976.2,779.75 977.25,777.2 982.5,777.2 990,777.05 997.5,776.9 1005,776.6 1008,777.05 1012.5,777.8 1015.5,778.55 1020,778.55 1027.5,778.25 1034.25,778.55 1035,778.55 1035.75,776 1036.2,789.5 1037.25,786.2 1039.5,786.2 1041.75,786.8 1044,788 1045.5,789.2 1046.25,785.3 1048.5,785 1050.75,784.25 1053,783.8 1054.5,785 1055.7,790.25 1056.75,781.25 1058.25,780.5 1059.75,779 1060.5,786.5 1061.25,782 1062.75,781.25 1063.5,784.25 1064.7,784.25 1065.75,772.7 1066.5,776 1067.7,778.25 1068.3,786.5 1069.2,780.5 1069.95,785.75 1070.7,776.75 1071.75,785 1073.25,785.75 1074.75,785.75 1075.5,787.25 1076.25,779.75 1077.3,778.25 1078.5,782 1080,785 1082.25,786.5 1083.75,786.5 1085.25,787.25 1086.75,788.75 1088.25,787.7 1089.75,787.25 1090.5,785 1091.25,779 1092,772.25 1093.2,771.5 1093.8,766.25 1094.55,770.75 1095.75,768.5 1096.8,770 1098,772.25 1099.5,772.7 1101,771.5 1102.2,770 1103.25,765.8 1104.3,774.2 1105.2,769.25 1106.25,770 1107.3,770 1108.2,767 1108.8,764 1109.7,761 1110.3,759.5 1111.05,759.5 1111.5,756.5 1112.25,753.5 1113,752 1113.75,749 1114.8,744.5 1115.55,746 1116,752 1116.75,752 1117.5,749 1118.25,743 1118.7,729.5 1119.75,727.25 1120.2,719 1120.8,714.5 1121.25,710 1121.7,698 1122.45,695.75 1123.5,693.5 1123.8,686 1124.25,656 1125,665.75 1126.5,665 1128,665 1129.05,665.75 1129.8,661.25 1131,659.75 1131.75,647.75 1132.5,648.5 1133.7,650.75 1134.75,655.25 1136.25,656 1137.75,655.7 1139.25,655.55 1140.75,657.5 1141.8,659.75 1143.75,660.2 1146,660.2 1147.8,660.2 1148.55,650" stroke="#0000ff" stroke-width="1.85" fill="none" stroke-linejoin="round" clip-path="url(#c11)"/><text transform="translate(892.8 806.55) scale(0.958 1)" font-size="12.0" fill="#262626" text-anchor="middle">2016-07-01</text><text transform="translate(985.2 806.55) scale(0.958 1)" font-size="12.0" fill="#262626" text-anchor="middle">2017-01-01</text><text transform="translate(1076.3 806.55) scale(0.958 1)" font-size="12.0" fill="#262626" text-anchor="middle">2017-07-01</text><text transform="translate(1168.2 806.55) scale(0.958 1)" font-size="12.0" fill="#262626" text-anchor="middle">2018-01-01</text><text transform="translate(850.6 686.9) scale(0.958 1)" font-size="12.0" fill="#262626" text-anchor="end">10000</text><text transform="translate(850.6 734) scale(0.958 1)" font-size="12.0" fill="#262626" text-anchor="end">5000</text><text transform="translate(850.6 781.1) scale(0.958 1)" font-size="12.0" fill="#262626" text-anchor="end">0</text><text x="1018.1" y="639.65" font-size="22.5" fill="#000" text-anchor="middle">RUB</text></g>
<g><path d="M76.7 852.7V995.6M111.75 852.7V995.6M147.75 852.7V995.6M183.3 852.7V995.6M219.2 852.7V995.6M254.8 852.7V995.6M290.5 852.7V995.6M326 852.7V995.6" stroke="#262626" stroke-opacity="0.15" stroke-width="1.6" fill="none"/><path d="M40.5 891.3H362M40.5 941.75H362M40.5 992.1H362" stroke="#262626" stroke-opacity="0.15" stroke-width="1.6" fill="none"/><path d="M40.5 995.6V991.6M40.5 852.7V856.7M76.7 995.6V991.6M76.7 852.7V856.7M111.75 995.6V991.6M111.75 852.7V856.7M147.75 995.6V991.6M147.75 852.7V856.7M183.3 995.6V991.6M183.3 852.7V856.7M219.2 995.6V991.6M219.2 852.7V856.7M254.8 995.6V991.6M254.8 852.7V856.7M290.5 995.6V991.6M290.5 852.7V856.7M326 995.6V991.6M326 852.7V856.7M362 995.6V991.6M362 852.7V856.7M40.5 891.3H44.5M362 891.3H358M40.5 941.75H44.5M362 941.75H358M40.5 992.1H44.5M362 992.1H358" stroke="#262626" stroke-width="1.6" fill="none"/><rect x="40.5" y="852.7" width="321.5" height="142.9" stroke="#262626" stroke-width="1.6" fill="none"/><path d="M58.75,992.25 67,992.25 76,992.25 85,992.25 94,992.25 103,992.25 112,992.25 115,992.7 116.5,993.75 118,995.25 119.2,994.5 119.8,991.5 121.75,991.2 124,990.75 125.5,989.7 126.7,990 127.45,986.7 128.2,988.5 130,988.8 133,988.5 136,988.5 137.5,990 138.25,984 139,981.75 140.5,981 141.25,978 142,975.75 143.5,974.55 146.5,974.55 149.5,974.25 152.5,973.8 155.5,973.5 158.5,973.2 161.5,973.2 164.5,972.75 167.2,972.3 167.8,982.5 169.75,983.25 172,982.8 175,982.95 178,982.95 181,982.95 182.2,984.3 182.8,969 183.25,963 184,964.5 184.45,948.75 185.2,956.25 187,956.7 190,956.7 193,956.55 194.2,957.75 195.25,957 196,952.5 196.3,908.25 196.75,906 197.5,907.5 197.8,951.75 199,951 200.5,950.25 202,949.5 203.5,948.75 205,948 206.5,946.5 207.7,945 208.3,951 208.75,957 209.5,958.5 211,962.25 212.5,963 214,961.8 215.5,961.5 216.95,960.3 219.5,960 221.75,959.7 222.8,961.2 223.25,922.5 224,921.75 224.3,930 225.2,922.5 226.25,919.5 226.7,914.25 227.3,916.5 227.9,924 228.5,885.75 229.25,892.5 230,891 231.5,891 233,891.75 234.5,893.25 235.7,894 236,901.2 237.2,900.75 238.25,899.25 238.7,859.5 239.75,859.8 240.5,860.25 242,859.2 243.5,857.7 245.75,857.7 248,857.7 249.5,857.25 250.25,855 251.75,855 252.5,852.75 252.95,903 254,906 254.75,934.5 255.5,912 257,912.75 259.25,912 261.5,911.7 263,911.25 263.75,906 265.25,905.25 266,904.5 266.75,902.25 267.2,919.5 267.5,855 268.25,868.5 269,867 270.5,866.25 272,867 272.75,865.5 273.5,869.25 275,870 276.5,869.7 278,869.25 279.2,870.75 279.8,876 281,878.25 281.75,883.5 282.5,888.75 284,889.5 285.5,889.8 287,890.25 287.3,931.5 288.5,933.3 289.7,934.5 290,939 291.5,939.75 293,939.75 293.75,960.75 295.25,963 296,966 297.2,967.5 297.95,965.25 298.7,969 299.3,982.5 299.75,979.5 301.25,979.8 303.5,980.25 305,981 305.75,983.25 306.8,984 307.25,988.5 309.5,988.5 311.75,988.5 314,989.25 317,989.7 320,989.7 323,989.7 325.25,989.25 327.5,988.8 329,989.7 332,990.3 335,990.75 338,991.2 339.5,991.8 341,991.5 342.5,990.75 344.75,990.75 347,990.75 349.25,990.75" stroke="#0000ff" stroke-width="1.85" fill="none" stroke-linejoin="round" clip-path="url(#c12)"/><text transform="translate(29.2 1012.95) scale(0.958 1)" font-size="12.0" fill="#262626" text-anchor="middle">2013-07-01</text><text transform="translate(136.45 1012.95) scale(0.958 1)" font-size="12.0" fill="#262626" text-anchor="middle">2015-01-01</text><text transform="translate(243.5 1012.95) scale(0.958 1)" font-size="12.0" fill="#262626" text-anchor="middle">2016-07-01</text><text transform="translate(350.7 1012.95) scale(0.958 1)" font-size="12.0" fill="#262626" text-anchor="middle">2018-01-01</text><text transform="translate(32.8 892.6) scale(0.958 1)" font-size="12.0" fill="#262626" text-anchor="end">4</text><text transform="translate(32.8 943.05) scale(0.958 1)" font-size="12.0" fill="#262626" text-anchor="end">2</text><text transform="translate(32.8 993.4) scale(0.958 1)" font-size="12.0" fill="#262626" text-anchor="end">0</text><text x="200.45" y="845.35" font-size="22.5" fill="#000" text-anchor="middle">SGD</text><path d="M43.1 841.3L50.6 848.6M50.6 841.3L43.1 848.6" stroke="#262626" stroke-width="1.1" fill="none"/><text transform="translate(53.9 848.7) scale(0.958 1)" font-size="12.0" fill="#262626" text-anchor="start">10</text><text transform="translate(68.4 843.5) scale(0.958 1)" font-size="10.0" fill="#262626" text-anchor="start">5</text></g>
<g><path d="M495.4 852.7V995.6M540.9 852.7V995.6M587 852.7V995.6M633.3 852.7V995.6M679.6 852.7V995.6M725.4 852.7V995.6" stroke="#262626" stroke-opacity="0.15" stroke-width="1.6" fill="none"/><path d="M449 889.5H771.35M449 929.1H771.35M449 968.7H771.35" stroke="#262626" stroke-opacity="0.15" stroke-width="1.6" fill="none"/><path d="M449 995.6V991.6M449 852.7V856.7M495.4 995.6V991.6M495.4 852.7V856.7M540.9 995.6V991.6M540.9 852.7V856.7M587 995.6V991.6M587 852.7V856.7M633.3 995.6V991.6M633.3 852.7V856.7M679.6 995.6V991.6M679.6 852.7V856.7M725.4 995.6V991.6M725.4 852.7V856.7M771.35 995.6V991.6M771.35 852.7V856.7M449 889.5H453M771.35 889.5H767.35M449 929.1H453M771.35 929.1H767.35M449 968.7H453M771.35 968.7H767.35" stroke="#262626" stroke-width="1.6" fill="none"/><rect x="449" y="852.7" width="322.35" height="142.9" stroke="#262626" stroke-width="1.6" fill="none"/><path d="M449.5,889.5 460,889.8 467.5,890.55 475,890.7 482.5,891 490,891.75 494.5,891.75 499,891 501.25,890.25 502,888 502.45,872.7 503.2,873 503.5,888 505,889.2 508,889.2 512.5,889.05 520,888.75 527.5,888.75 535,888.45 542.5,888.45 547,888.75 548.5,889.8 551.5,889.5 556,889.8 558.25,889.5 558.7,887.25 561.25,887.7 563.5,888 565.75,888.75 566.2,893.25 569.5,893.25 574,893.25 578.5,893.25 583,893.55 583.75,892.5 584.5,893.7 589,894 592.75,894 593.5,895.5 593.95,927.75 594.7,930 595.3,932.25 595.75,927.75 597.25,927 599.5,926.7 604,926.55 608.5,926.25 613,925.8 616,925.2 619,925.5 622,925.5 625,925.5 628,926.25 631,925.95 634,925.95 637,926.7 637.75,921.75 639.25,920.25 640.75,919.5 642.25,921 643.75,921.75 646,921 648.25,920.7 649.3,919.5 649.75,951 650.2,969 651.25,969.75 652.3,964.5 653.5,957.75 653.8,985.5 654.7,984 655.75,981 656.5,985.5 657.25,930 658,925.5 658.75,918 660.25,915 661.75,911.25 662.5,897 663.25,901.5 664,891 664.75,855 665.2,903 665.8,936 666.7,951 667.3,963 668.2,958.5 669.25,957 670,954 670.75,960 671.5,961.5 672.25,958.5 673,960 673.75,957 674.2,973.5 674.8,995.25 675.25,981 676,970.5 676.75,966.75 678.25,968.25 679.75,966 681.25,966.75 682,969.75 683.5,970.5 684.25,969 685,978 685.75,964.5 686.5,960 688,960.75 689.5,961.5 691,962.25 693.25,963.3 695.5,963 696.25,961.8 697.75,961.5 700,961.2 702.25,961.5 703.75,962.25 706,962.7 708.25,963 709,960 709.75,957 712,957.3 714.25,956.7 716.5,956.7 717.25,954 718.3,955.5 719.2,957 719.5,940.5 721,940.8 723.25,941.25 725.5,940.8 727,939 728.5,936.75 729.55,937.5 730.3,944.25 731.2,948.75 733,948.3 735.25,948 736.75,946.8 737.5,948.75 738.25,945 738.7,910.5 739.3,921 739.75,936 740.8,939 742,940.5 743.5,942 745,943.2 746.5,943.8 747.7,944.25 748.3,936 748.75,891 749.2,852.75 750.25,856.5 751.75,857.25 752.5,859.5 753.25,867 754,867.75 754.75,862.5 755.5,916.5" stroke="#0000ff" stroke-width="1.85" fill="none" stroke-linejoin="round" clip-path="url(#c13)"/><text transform="translate(437.7 1012.95) scale(0.958 1)" font-size="12.0" fill="#262626" text-anchor="middle">2014-07-01</text><text transform="translate(529.6 1012.95) scale(0.958 1)" font-size="12.0" fill="#262626" text-anchor="middle">2015-07-01</text><text transform="translate(622 1012.95) scale(0.958 1)" font-size="12.0" fill="#262626" text-anchor="middle">2016-07-01</text><text transform="translate(714.1 1012.95) scale(0.958 1)" font-size="12.0" fill="#262626" text-anchor="middle">2017-07-01</text><text transform="translate(441.3 890.8) scale(0.958 1)" font-size="12.0" fill="#262626" text-anchor="end">0</text><text transform="translate(441.3 930.4) scale(0.958 1)" font-size="12.0" fill="#262626" text-anchor="end">-10</text><text transform="translate(441.3 970) scale(0.958 1)" font-size="12.0" fill="#262626" text-anchor="end">-20</text><text x="609.38" y="845.35" font-size="22.5" fill="#000" text-anchor="middle">USD</text><path d="M451.6 841.3L459.1 848.6M459.1 841.3L451.6 848.6" stroke="#262626" stroke-width="1.1" fill="none"/><text transform="translate(461 848.7) scale(0.958 1)" font-size="12.0" fill="#262626" text-anchor="start">10</text><text transform="translate(475.9 843.5) scale(0.958 1)" font-size="10.0" fill="#262626" text-anchor="start">5</text></g>
<g><path d="M898.4 852.7V995.6M938.8 852.7V995.6M978.9 852.7V995.6M1019.1 852.7V995.6M1059.3 852.7V995.6M1099.4 852.7V995.6M1139.4 852.7V995.6" stroke="#262626" stroke-opacity="0.15" stroke-width="1.6" fill="none"/><path d="M858.3 900.5H1179.5M858.3 948H1179.5" stroke="#262626" stroke-opacity="0.15" stroke-width="1.6" fill="none"/><path d="M858.3 995.6V991.6M858.3 852.7V856.7M898.4 995.6V991.6M898.4 852.7V856.7M938.8 995.6V991.6M938.8 852.7V856.7M978.9 995.6V991.6M978.9 852.7V856.7M1019.1 995.6V991.6M1019.1 852.7V856.7M1059.3 995.6V991.6M1059.3 852.7V856.7M1099.4 995.6V991.6M1099.4 852.7V856.7M1139.4 995.6V991.6M1139.4 852.7V856.7M1179.5 995.6V991.6M1179.5 852.7V856.7M858.3 852.7H862.3M1179.5 852.7H1175.5M858.3 900.5H862.3M1179.5 900.5H1175.5M858.3 948H862.3M1179.5 948H1175.5M858.3 995.6H862.3M1179.5 995.6H1175.5" stroke="#262626" stroke-width="1.6" fill="none"/><rect x="858.3" y="852.7" width="321.2" height="142.9" stroke="#262626" stroke-width="1.6" fill="none"/><path d="M884.7,901.5 889.5,901.8 894,902.55 898.5,902.7 901.5,903 903,903.75 904.5,904.95 906.75,906.75 909,906.75 912,906.45 913.5,904.8 918,904.95 924,904.95 930,905.1 936,905.25 939.3,905.25 939.75,898.5 945,898.5 960,898.5 975,898.5 990,898.5 1005,898.5 1020,898.5 1027.5,898.2 1034.25,898.2 1035,898.5 1050,898.5 1065,898.2 1075.2,898.2 1075.5,932.25 1076.25,933 1077,930 1077.75,921 1078.8,909 1079.4,905.25 1080.3,907.5 1080.75,923.25 1082.25,923.25 1083.75,921.75 1084.5,924.75 1085.7,925.5 1086.3,927.75 1086.75,936 1087.5,939 1088.25,945.75 1088.7,978 1089.3,991.5 1089.75,990 1090.2,984 1091.25,981.75 1092.75,982.2 1094.25,981.75 1095.75,982.8 1098,983.25 1098.75,978.75 1099.5,979.5 1100.25,984 1101,992.25 1102.2,994.5 1102.8,973.5 1103.25,942 1104,948 1104.75,951 1105.8,951.75 1106.7,964.5 1107.3,964.5 1108.2,955.5 1109.25,953.25 1110.75,953.25 1112.25,952.5 1113.75,951 1114.5,948 1114.8,955.5 1115.7,957.75 1116.3,964.5 1117.2,966 1118.25,966 1119,968.25 1119.75,976.5 1120.5,980.25 1121.25,984.75 1122,975.75 1123.2,974.25 1124.7,974.25 1126.5,975 1127.7,975 1128.3,935.25 1128.75,981 1129.5,985.5 1131,987 1132.5,987 1134,987.3 1135.2,987.75 1135.8,982.5 1136.4,981 1137,984 1137.75,985.5 1138.5,982.5 1138.95,968.25 1139.7,979.5 1140.45,978 1140.9,990 1141.8,990.75 1143,990.75 1143.75,984 1144.5,969 1145.25,967.5 1145.7,976.5 1146.3,928.5 1147.2,927 1148.25,930 1149,928.5 1149.75,877.5 1150.5,933 1151.25,942 1152,951 1152.75,955.5 1153.8,957 1154.55,960 1155,981.75 1155.45,951 1156.05,940.5 1156.8,948 1157.7,951 1158.3,958.5 1159.2,922.5 1160.25,867 1161,869.25 1161.75,870.75 1162.5,872.25 1163.7,874.5 1164.75,876 1165.8,873.75" stroke="#0000ff" stroke-width="1.85" fill="none" stroke-linejoin="round" clip-path="url(#c14)"/><text transform="translate(847 1012.95) scale(0.958 1)" font-size="12.0" fill="#262626" text-anchor="middle">2014-01-01</text><text transform="translate(967.6 1012.95) scale(0.958 1)" font-size="12.0" fill="#262626" text-anchor="middle">2015-07-01</text><text transform="translate(1088.1 1012.95) scale(0.958 1)" font-size="12.0" fill="#262626" text-anchor="middle">2017-01-01</text><text transform="translate(850.6 854) scale(0.958 1)" font-size="12.0" fill="#262626" text-anchor="end">2</text><text transform="translate(850.6 901.8) scale(0.958 1)" font-size="12.0" fill="#262626" text-anchor="end">0</text><text transform="translate(850.6 949.3) scale(0.958 1)" font-size="12.0" fill="#262626" text-anchor="end">-2</text><text transform="translate(850.6 996.9) scale(0.958 1)" font-size="12.0" fill="#262626" text-anchor="end">-4</text><text x="1018.1" y="845.35" font-size="22.5" fill="#000" text-anchor="middle">ZAR</text><path d="M860.9 841.3L868.4 848.6M868.4 841.3L860.9 848.6" stroke="#262626" stroke-width="1.1" fill="none"/><text transform="translate(871.4 848.7) scale(0.958 1)" font-size="12.0" fill="#262626" text-anchor="start">10</text><text transform="translate(887 842.6) scale(0.958 1)" font-size="10.0" fill="#262626" text-anchor="start">4</text></g>
</svg></body></html>
